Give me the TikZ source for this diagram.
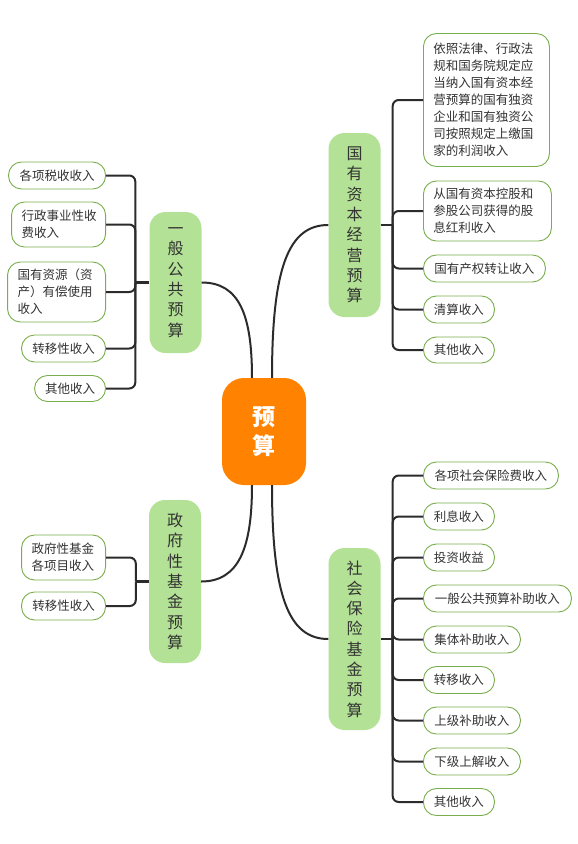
\documentclass[tikz,border=0pt]{standalone}
\usepackage{fontspec}
\setmainfont{Noto Sans CJK SC}
\definecolor{orangec}{HTML}{FF8300}
\definecolor{greenfill}{HTML}{B3E195}
\definecolor{leafborder}{HTML}{79AE4C}
\definecolor{textc}{HTML}{333333}
\definecolor{linec}{HTML}{2B2B2B}
\begin{document}
\begin{tikzpicture}[x=1pt,y=-1pt,
  rootbox/.style={fill=orangec, rounded corners=22pt, minimum width=84pt, minimum height=107pt,
    text=white, font=\fontsize{23}{29}\selectfont\bfseries, align=center, inner sep=0pt},
  mainbox/.style={fill=greenfill, rounded corners=16pt, minimum width=52pt, inner sep=0pt,
    text=textc, font=\fontsize{16}{20.3}\selectfont, align=center},
  leaf/.style={draw=leafborder, line width=0.9pt, rounded corners=13pt, fill=white,
    text=textc, font=\fontsize{12.5}{17}\selectfont, align=left,
    inner xsep=10pt, inner ysep=0pt, minimum height=27pt},
  lw/.style={anchor=west},
  le/.style={anchor=east},
  conn/.style={draw=linec, line width=2pt},
  brk/.style={draw=linec, line width=2pt, rounded corners=6pt},
  stub/.style={draw=linec, line width=2.6pt}
]
\useasboundingbox (0,0) rectangle (578,844);

% root
\node[rootbox] (root) at (264,431.5) {预\\算};

% main branches
\node[mainbox, minimum height=141pt] (gg) at (175.5,282.5) {一\\般\\公\\共\\预\\算};
\node[mainbox, minimum height=184pt] (gy) at (354.5,225) {国\\有\\资\\本\\经\\营\\预\\算};
\node[mainbox, minimum height=163pt] (zf) at (175,581.5) {政\\府\\性\\基\\金\\预\\算};
\node[mainbox, minimum height=182pt] (sb) at (354.5,639) {社\\会\\保\\险\\基\\金\\预\\算};

% connectors from root
\coordinate (rtl) at ([xshift=-12pt]root.north);
\coordinate (rtr) at ([xshift=8pt]root.north);
\coordinate (rbl) at ([xshift=-12pt]root.south);
\coordinate (rbr) at ([xshift=8pt]root.south);
\draw[conn] (rtl) .. controls +(0,-62) and +(38,0) .. (gg.east);
\draw[conn] (rtr) .. controls +(0,-110) and +(-40,0) .. (gy.west);
\draw[conn] (rbl) .. controls +(0,62) and +(38,0) .. (zf.east);
\draw[conn] (rbr) .. controls +(0,110) and +(-40,0) .. (sb.west);

% left top leaves
\node[leaf, le, minimum width=97pt] (l1) at (106,175.5) {各项税收收入};
\node[leaf, le, minimum height=45pt, text width=74pt] (l2) at (106,224.5) {行政事业性收\\费收入};
\node[leaf, le, minimum height=60pt, text width=78pt] (l3) at (106,292) {国有资源（资\\产）有偿使用\\收入};
\node[leaf, le, minimum width=84pt] (l4) at (106,348.5) {转移性收入};
\node[leaf, le, minimum width=71pt, minimum height=26pt] (l5) at (106,388.5) {其他收入};

% right top leaves
\node[leaf, lw, minimum height=133pt, text width=106pt] (r1) at (423,100) {依照法律、行政法\\规和国务院规定应\\当纳入国有资本经\\营预算的国有独资\\企业和国有独资公\\司按照规定上缴国\\家的利润收入};
\node[leaf, lw, minimum height=60pt, text width=108pt] (r2) at (423,211) {从国有资本控股和\\参股公司获得的股\\息红利收入};
\node[leaf, lw, minimum width=122pt] (r3) at (423,268.5) {国有产权转让收入};
\node[leaf, lw, minimum width=71pt] (r4) at (423,309.5) {清算收入};
\node[leaf, lw, minimum width=71pt, minimum height=26pt] (r5) at (423,350) {其他收入};

% left bottom leaves
\node[leaf, le, minimum height=45pt, text width=64pt] (z1) at (106,557.5) {政府性基金\\各项目收入};
\node[leaf, le, minimum width=84pt, minimum height=28pt] (z2) at (106,606) {转移性收入};

% right bottom leaves
\node[leaf, lw, minimum width=135pt] (s1) at (423,475.5) {各项社会保险费收入};
\node[leaf, lw, minimum width=71pt] (s2) at (423,516.5) {利息收入};
\node[leaf, lw, minimum width=71pt] (s3) at (423,557.5) {投资收益};
\node[leaf, lw, minimum width=148pt] (s4) at (423,598.5) {一般公共预算补助收入};
\node[leaf, lw, minimum width=97pt] (s5) at (423,639.5) {集体补助收入};
\node[leaf, lw, minimum width=71pt] (s6) at (423,680) {转移收入};
\node[leaf, lw, minimum width=97pt] (s7) at (423,720.5) {上级补助收入};
\node[leaf, lw, minimum width=97pt] (s8) at (423,761.5) {下级上解收入};
\node[leaf, lw, minimum width=71pt] (s9) at (423,802) {其他收入};

% brackets
\coordinate (bgg) at ([xshift=-14pt]gg.west);
\coordinate (bgy) at ([xshift=12pt]gy.east);
\coordinate (bzf) at ([xshift=-13pt]zf.west);
\coordinate (bsb) at ([xshift=12pt]sb.east);
\draw[stub] (gg.west) -- (bgg);
\draw[stub] (gy.east) -- (bgy);
\draw[stub] (zf.west) -- (bzf);
\draw[stub] (sb.east) -- (bsb);
\foreach \c in {l1,l2,l3,l4,l5} \draw[brk] (bgg) |- (\c.east);
\foreach \c in {r1,r2,r3,r4,r5} \draw[brk] (bgy) |- (\c.west);
\foreach \c in {z1,z2} \draw[brk] (bzf) |- (\c.east);
\foreach \c in {s1,s2,s3,s4,s5,s6,s7,s8,s9} \draw[brk] (bsb) |- (\c.west);
\end{tikzpicture}
\end{document}
